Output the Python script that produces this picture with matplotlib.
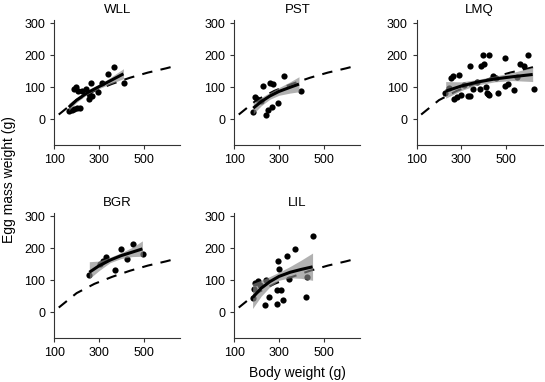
import matplotlib
matplotlib.use("Agg")
import matplotlib.pyplot as plt

plt.rcParams['font.family'] = ['Liberation Sans', 'DejaVu Sans']

# Shared reference curve (dashed)
ref_x = [120, 200, 280, 360, 440, 520, 600, 650]
ref_y = [15, 60, 89, 111, 130, 146, 159, 168]

# WLL
wll_x = [165, 178, 190, 202, 216, 190, 197, 208, 222, 240, 257, 264, 257, 268, 297, 315, 339, 368, 412]
wll_y = [25, 30, 33, 36, 36, 95, 101, 88, 90, 96, 79, 115, 62, 72, 85, 112, 141, 164, 113]
wll_fx = [165, 200, 250, 300, 350, 410]
wll_fy = [38, 60, 84, 102, 120, 142]
wll_lo = [28, 53, 79, 96, 110, 127]
wll_hi = [50, 67, 89, 108, 130, 158]

# PST
pst_x = [185, 194, 200, 230, 262, 275, 324, 240, 252, 270, 297, 401, 220]
pst_y = [22, 70, 65, 104, 115, 110, 136, 15, 30, 40, 52, 87, 58]
pst_fx = [185, 220, 260, 300, 350, 390]
pst_fy = [35, 55, 73, 87, 100, 110]
pst_lo = [17, 42, 63, 75, 82, 86]
pst_hi = [52, 68, 84, 99, 117, 133]

# LMQ
lmq_x = [229, 255, 262, 267, 280, 290, 297, 328, 340, 340, 351, 386, 389, 397, 404, 411,
         413, 418, 422, 423, 441, 464, 495, 497, 510, 536, 565, 580, 601, 627, 245, 310, 370, 455, 550]
lmq_y = [82, 130, 136, 62, 70, 139, 77, 74, 72, 167, 95, 95, 167, 200, 173, 100,
         82, 78, 200, 75, 136, 82, 190, 103, 110, 93, 173, 167, 200, 95, 98, 108, 118, 128, 132]
lmq_fx = [230, 300, 370, 450, 530, 620]
lmq_fy = [88, 104, 116, 126, 133, 140]
lmq_lo = [66, 90, 107, 117, 121, 118]
lmq_hi = [118, 117, 124, 135, 146, 163]

# BGR
bgr_x = [257, 305, 331, 372, 401, 424, 454, 499, 320]
bgr_y = [118, 150, 172, 131, 198, 165, 214, 182, 160]
bgr_fx = [257, 300, 350, 400, 450, 495]
bgr_fy = [125, 145, 163, 177, 188, 198]
bgr_lo = [105, 130, 155, 168, 174, 175]
bgr_hi = [158, 160, 172, 186, 203, 223]

# LIL
lil_x = [182, 188, 192, 205, 240, 237, 257, 297, 301, 290, 308, 292, 317, 337, 372, 346, 421, 427, 451, 215]
lil_y = [46, 72, 93, 98, 100, 23, 49, 160, 136, 70, 70, 26, 39, 177, 198, 103, 48, 111, 237, 85]
lil_fx = [182, 220, 260, 300, 350, 400, 451]
lil_fy = [46, 75, 96, 112, 125, 134, 142]
lil_lo = [12, 50, 80, 100, 108, 106, 100]
lil_hi = [90, 100, 112, 125, 143, 163, 185]

titles = ["WLL", "PST", "LMQ", "BGR", "LIL"]
panels = [
    (wll_x, wll_y, wll_fx, wll_fy, wll_lo, wll_hi),
    (pst_x, pst_y, pst_fx, pst_fy, pst_lo, pst_hi),
    (lmq_x, lmq_y, lmq_fx, lmq_fy, lmq_lo, lmq_hi),
    (bgr_x, bgr_y, bgr_fx, bgr_fy, bgr_lo, bgr_hi),
    (lil_x, lil_y, lil_fx, lil_fy, lil_lo, lil_hi),
]

W, H = 545, 382
fig = plt.figure(figsize=(W / 100, H / 100), dpi=100)

lefts = [54.3, 234.3, 416.7]
tops = [20, 213]
aw, ah = 126, 125

spine_c = '#333333'
for i, (title, (px, py, fx, fy, lo, hi)) in enumerate(zip(titles, panels)):
    r, c = divmod(i, 3)
    l = lefts[c]
    t = tops[r]
    ax = fig.add_axes([l / W, 1 - (t + ah) / H, aw / W, ah / H])
    ax.scatter(px, py, s=20, color='black', zorder=2, linewidths=0)
    ax.fill_between(fx, lo, hi, color='#888888', alpha=0.65, linewidth=0, zorder=3)
    ax.plot(fx, fy, color='black', lw=2.2, zorder=4, solid_capstyle='butt')
    ax.plot(ref_x, ref_y, color='black', lw=1.5, dashes=(5, 4), zorder=1)
    ax.set_xlim(100, 665)
    ax.set_ylim(-80, 310)
    ax.set_xticks([100, 300, 500])
    ax.set_yticks([0, 100, 200, 300])
    for s in ['top', 'right']:
        ax.spines[s].set_visible(False)
    for s in ['left', 'bottom']:
        ax.spines[s].set_color(spine_c)
        ax.spines[s].set_linewidth(0.8)
    ax.tick_params(direction='out', length=3, width=0.8, color=spine_c, labelsize=9, pad=3.5)
    ax.set_title(title, fontsize=9.5, pad=5)

fig.text(297 / W, 1 - 373 / H, "Body weight (g)", ha='center', va='center', fontsize=10)
fig.text(9 / W, 1 - 180 / H, "Egg mass weight (g)", ha='center', va='center', rotation=90, fontsize=10)

fig.savefig("out.png", dpi=100)
